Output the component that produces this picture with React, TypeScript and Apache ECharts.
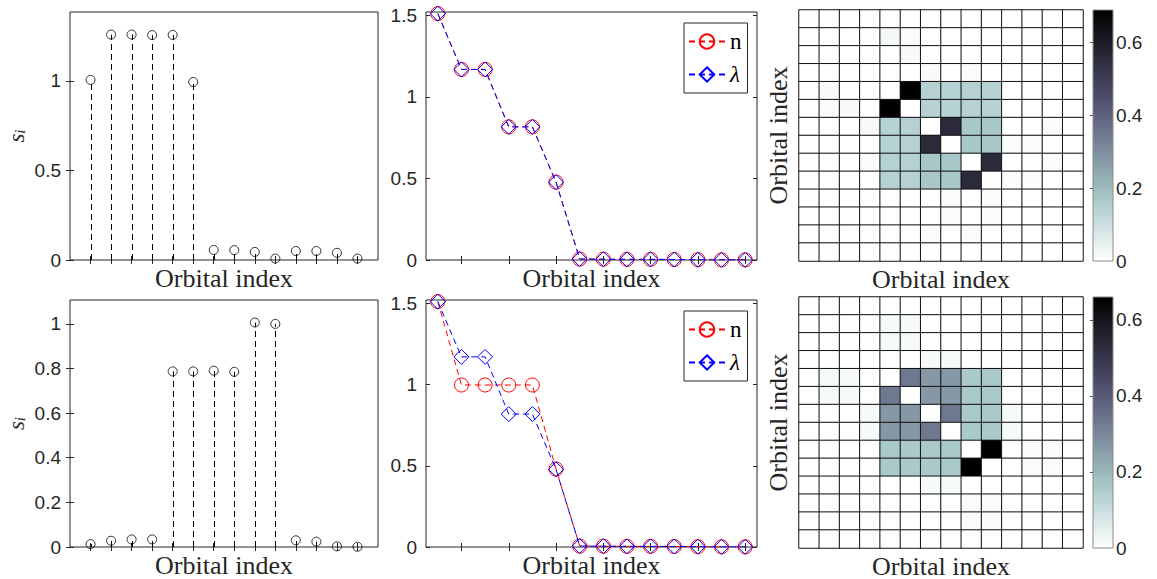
import React, { useEffect, useRef } from "react";
import * as echarts from "echarts";

// ---------------- data ----------------
const orbitalIndex = [1, 2, 3, 4, 5, 6, 7, 8, 9, 10, 11, 12, 13, 14];

const stemTop = [1.006, 1.259, 1.259, 1.256, 1.257, 0.994, 0.056, 0.055, 0.045, 0.008, 0.05, 0.05, 0.04, 0.008];
const stemBottom = [0.013, 0.028, 0.034, 0.034, 0.787, 0.787, 0.79, 0.785, 1.006, 1.0, 0.03, 0.024, 0.003, 0.001];

const occTopN = [1.51, 1.168, 1.168, 0.816, 0.816, 0.477, 0.006, 0.005, 0.004, 0.004, 0.003, 0.002, 0.001, 0.001];
const occTopLambda = [1.51, 1.168, 1.168, 0.816, 0.816, 0.477, 0.006, 0.005, 0.004, 0.004, 0.003, 0.002, 0.001, 0.001];
const occBottomN = [1.51, 0.997, 0.997, 0.997, 0.997, 0.48, 0.006, 0.005, 0.004, 0.004, 0.003, 0.002, 0.001, 0.001];
const occBottomLambda = [1.51, 1.17, 1.17, 0.818, 0.818, 0.478, 0.006, 0.005, 0.004, 0.004, 0.003, 0.002, 0.001, 0.001];

const miTop = [
  [0, 0, 0, 0, 0, 0, 0, 0, 0, 0, 0, 0, 0, 0],
  [0, 0, 0, 0, 0.02, 0.01, 0, 0, 0, 0, 0, 0, 0, 0],
  [0, 0, 0, 0, 0, 0.015, 0, 0, 0, 0, 0, 0, 0, 0],
  [0, 0, 0, 0, 0, 0, 0.015, 0, 0.01, 0, 0, 0, 0, 0],
  [0, 0.015, 0, 0, 0, 0.69, 0.145, 0.145, 0.145, 0.145, 0, 0, 0, 0],
  [0, 0.01, 0.015, 0, 0.69, 0, 0.145, 0.145, 0.145, 0.145, 0, 0, 0, 0],
  [0, 0, 0, 0.015, 0.145, 0.145, 0, 0.56, 0.17, 0.17, 0, 0, 0.01, 0],
  [0, 0, 0, 0, 0.145, 0.145, 0.56, 0, 0.17, 0.17, 0.01, 0.01, 0, 0],
  [0, 0, 0, 0.01, 0.145, 0.145, 0.17, 0.17, 0, 0.56, 0, 0, 0.01, 0],
  [0, 0, 0, 0, 0.145, 0.145, 0.17, 0.17, 0.56, 0, 0.01, 0.01, 0, 0],
  [0, 0, 0, 0, 0, 0, 0, 0.01, 0, 0.01, 0, 0, 0, 0],
  [0, 0, 0, 0, 0, 0, 0, 0.01, 0, 0.01, 0, 0, 0, 0],
  [0, 0, 0, 0, 0, 0, 0.01, 0, 0.01, 0, 0, 0, 0, 0],
  [0, 0, 0, 0, 0, 0, 0, 0, 0, 0, 0, 0, 0, 0],
];

const miBottom = [
  [0, 0, 0, 0, 0, 0, 0, 0, 0, 0, 0, 0, 0, 0],
  [0, 0, 0, 0, 0.015, 0.015, 0, 0, 0, 0, 0, 0, 0, 0],
  [0, 0, 0, 0, 0.015, 0.015, 0, 0, 0, 0, 0, 0, 0, 0],
  [0, 0, 0, 0, 0, 0, 0.015, 0.015, 0, 0, 0, 0, 0, 0],
  [0, 0.015, 0.015, 0, 0, 0.335, 0.265, 0.265, 0.16, 0.16, 0, 0, 0, 0],
  [0, 0.015, 0.015, 0, 0.335, 0, 0.265, 0.265, 0.16, 0.16, 0, 0, 0, 0],
  [0, 0, 0, 0.015, 0.265, 0.265, 0, 0.335, 0.16, 0.16, 0.015, 0, 0, 0],
  [0, 0, 0, 0.015, 0.265, 0.265, 0.335, 0, 0.16, 0.16, 0.015, 0, 0, 0],
  [0, 0, 0, 0, 0.16, 0.16, 0.16, 0.16, 0, 0.66, 0, 0.01, 0.01, 0],
  [0, 0, 0, 0, 0.16, 0.16, 0.16, 0.16, 0.66, 0, 0, 0.01, 0.01, 0],
  [0, 0, 0, 0, 0, 0, 0.015, 0.015, 0, 0, 0, 0, 0, 0],
  [0, 0, 0, 0, 0, 0, 0, 0, 0.01, 0.01, 0, 0, 0, 0],
  [0, 0, 0, 0, 0, 0, 0, 0, 0.01, 0.01, 0, 0, 0, 0],
  [0, 0, 0, 0, 0, 0, 0, 0, 0, 0, 0, 0, 0, 0],
];

const stemTicksTop = [0, 0.5, 1];
const stemTicksBottom = [0, 0.2, 0.4, 0.6, 0.8, 1];
const occTicks = [0, 0.5, 1, 1.5];
const occXTicks = [2, 4, 6, 8, 10, 12, 14];
const colorTicks = [0, 0.2, 0.4, 0.6];
const legendNames = ["n", "λ"];
const axisTitle = "Orbital index";

// ---------------- styling helpers ----------------
const AX = "#262626";
const SANS = "Liberation Sans";
const SERIF = "Liberation Serif";

// reversed MATLAB "bone" colormap, s in [0,1]
function boneRev(s: number): string {
  const t = 1 - Math.max(0, Math.min(1, s));
  const clamp = (v: number) => Math.max(0, Math.min(1, v));
  const hr = clamp(t / 0.375);
  const hg = clamp((t - 0.375) / 0.375);
  const hb = clamp((t - 0.75) / 0.25);
  const r = (7 * t + hb) / 8;
  const g = (7 * t + hg) / 8;
  const b = (7 * t + hr) / 8;
  const h = (v: number) => Math.round(v * 255).toString(16).padStart(2, "0");
  return "#" + h(r) + h(g) + h(b);
}
const N_COL = 48;
const cmap = Array.from({ length: N_COL + 1 }, (_, k) => boneRev(k / N_COL));

const tickStyle = (values: number[]) => ({
  show: true,
  inside: true,
  length: 4,
  customValues: values,
  lineStyle: { color: AX, width: 1 },
});

const labelStyle = (values: number[], margin = 9) => ({
  show: true,
  customValues: values,
  fontFamily: SANS,
  fontSize: 19,
  color: AX,
  margin,
});

const nameStyle = { fontFamily: SERIF, fontSize: 26, color: AX };

function buildOption() {
  const rows = [
    {
      top: 12, height: 248, hmTop: 10, hmHeight: 251, legendTop: 23,
      stem: stemTop, stemMax: 1.385, stemTicks: stemTicksTop,
      n: occTopN, lam: occTopLambda, mi: miTop,
    },
    {
      top: 300, height: 247, hmTop: 297, hmHeight: 251, legendTop: 311,
      stem: stemBottom, stemMax: 1.107, stemTicks: stemTicksBottom,
      n: occBottomN, lam: occBottomLambda, mi: miBottom,
    },
  ];

  const grid: any[] = [];
  const xAxis: any[] = [];
  const yAxis: any[] = [];
  const series: any[] = [];
  const visualMap: any[] = [];
  const legend: any[] = [];

  const gridBase = { outerBoundsMode: "none", containLabel: false };

  rows.forEach((row, r) => {
    const g0 = r * 4;
    const a0 = r * 6;
    const miMax = Math.max(...row.mi.map((rr) => Math.max(...rr)));

    grid.push({ ...gridBase, left: 70, top: row.top, width: 308, height: row.height, show: true, borderColor: AX, borderWidth: 1 });
    grid.push({ ...gridBase, left: 426, top: row.top, width: 331, height: row.height, show: true, borderColor: AX, borderWidth: 1 });
    grid.push({ ...gridBase, left: 799, top: row.hmTop, width: 284, height: row.hmHeight, show: false });
    grid.push({ ...gridBase, left: 1093, top: row.hmTop, width: 20, height: row.hmHeight, show: false });

    const noLine = { show: false };
    const noSplit = { show: false };

    xAxis.push({
      type: "value", gridIndex: g0, min: 0, max: 15, position: "bottom",
      axisLine: noLine, splitLine: noSplit, axisTick: tickStyle(orbitalIndex), axisLabel: { show: false },
      name: axisTitle, nameLocation: "middle", nameGap: 5, nameTextStyle: nameStyle,
    });
    xAxis.push({
      type: "value", gridIndex: g0, min: 0, max: 15, position: "top",
      axisLine: noLine, splitLine: noSplit, axisTick: tickStyle(orbitalIndex), axisLabel: { show: false },
    });
    xAxis.push({
      type: "value", gridIndex: g0 + 1, min: 0.5, max: 14.5, position: "bottom",
      axisLine: noLine, splitLine: noSplit, axisTick: tickStyle(occXTicks), axisLabel: { show: false },
      name: axisTitle, nameLocation: "middle", nameGap: 5, nameTextStyle: nameStyle,
    });
    xAxis.push({
      type: "value", gridIndex: g0 + 1, min: 0.5, max: 14.5, position: "top",
      axisLine: noLine, splitLine: noSplit, axisTick: tickStyle(occXTicks), axisLabel: { show: false },
    });
    xAxis.push({
      type: "category", gridIndex: g0 + 2, data: orbitalIndex.map(String), position: "bottom",
      axisLine: noLine, axisTick: { show: false }, axisLabel: { show: false }, splitLine: noSplit,
      name: axisTitle, nameLocation: "middle", nameGap: 5, nameTextStyle: nameStyle,
    });
    xAxis.push({
      type: "value", gridIndex: g0 + 3, min: 0, max: 1, show: false,
    });

    yAxis.push({
      type: "value", gridIndex: g0, min: 0, max: row.stemMax, position: "left",
      axisLine: noLine, splitLine: noSplit, axisTick: tickStyle(row.stemTicks), axisLabel: labelStyle(row.stemTicks),
      name: "{s|s}{i|i}", nameLocation: "middle", nameGap: 41, nameRotate: 90,
      nameTextStyle: {
        rich: {
          s: { fontFamily: SERIF, fontStyle: "italic", fontSize: 23, lineHeight: 20, color: AX, padding: [0, 0, 3, 0] },
          i: { fontFamily: SERIF, fontStyle: "italic", fontSize: 15, lineHeight: 12, color: AX, verticalAlign: "bottom" },
        },
      },
    });
    yAxis.push({
      type: "value", gridIndex: g0, min: 0, max: row.stemMax, position: "right",
      axisLine: noLine, splitLine: noSplit, axisTick: tickStyle(row.stemTicks), axisLabel: { show: false },
    });
    yAxis.push({
      type: "value", gridIndex: g0 + 1, min: 0, max: 1.52, position: "left",
      axisLine: noLine, splitLine: noSplit, axisTick: tickStyle(occTicks), axisLabel: labelStyle(occTicks),
    });
    yAxis.push({
      type: "value", gridIndex: g0 + 1, min: 0, max: 1.52, position: "right",
      axisLine: noLine, splitLine: noSplit, axisTick: tickStyle(occTicks), axisLabel: { show: false },
    });
    yAxis.push({
      type: "category", gridIndex: g0 + 2, data: orbitalIndex.map(String), inverse: true, position: "left",
      axisLine: noLine, axisTick: { show: false }, axisLabel: { show: false }, splitLine: noSplit,
      name: axisTitle, nameLocation: "middle", nameGap: 8, nameRotate: 90, nameTextStyle: nameStyle,
    });
    yAxis.push({
      type: "value", gridIndex: g0 + 3, min: 0, max: miMax, position: "right", z: 5,
      axisLine: noLine, splitLine: noSplit,
      axisTick: { show: true, inside: true, length: 3, customValues: colorTicks.filter((v) => v > 0), lineStyle: { color: "#555" } },
      axisLabel: labelStyle(colorTicks, 3),
    });

    const stemData = orbitalIndex.map((o, i) => [o, row.stem[i]]);
    series.push({
      type: "custom",
      xAxisIndex: a0, yAxisIndex: a0,
      data: stemData,
      renderItem: (_p: any, api: any) => {
        const x = api.value(0);
        const y = api.value(1);
        const p0 = api.coord([x, 0]);
        const p1 = api.coord([x, y]);
        const px = Math.round(p0[0]) + 0.5;
        return {
          type: "line",
          shape: { x1: px, y1: p0[1], x2: px, y2: p1[1] },
          style: { stroke: "#000", lineWidth: 1, lineDash: [6, 4] },
        };
      },
      z: 2,
    });
    series.push({
      type: "scatter",
      xAxisIndex: a0, yAxisIndex: a0,
      data: stemData,
      symbol: "circle",
      symbolSize: 9,
      itemStyle: { color: "rgba(0,0,0,0)", borderColor: "#000", borderWidth: 1 },
      z: 3,
    });

    series.push({
      type: "line", name: legendNames[0],
      xAxisIndex: a0 + 2, yAxisIndex: a0 + 2,
      data: orbitalIndex.map((o, i) => [o, row.n[i]]),
      symbol: "circle", symbolSize: 14, showAllSymbol: true,
      lineStyle: { color: "#ff0000", width: 1, type: [6, 4] },
      itemStyle: { color: "rgba(0,0,0,0)", borderColor: "#ff0000", borderWidth: 1 },
      z: 3,
    });
    series.push({
      type: "line", name: legendNames[1],
      xAxisIndex: a0 + 2, yAxisIndex: a0 + 2,
      data: orbitalIndex.map((o, i) => [o, row.lam[i]]),
      symbol: "diamond", symbolSize: 15, showAllSymbol: true,
      lineStyle: { color: "#0000ff", width: 1, type: [6, 4] },
      itemStyle: { color: "rgba(0,0,0,0)", borderColor: "#0000ff", borderWidth: 1 },
      z: 4,
    });

    const heatIdx = series.length;
    const hmData: number[][] = [];
    row.mi.forEach((rr, ri) => rr.forEach((v, ci) => hmData.push([ci, ri, v])));
    series.push({
      type: "heatmap",
      xAxisIndex: a0 + 4, yAxisIndex: a0 + 4,
      data: hmData,
      itemStyle: { borderColor: "#111", borderWidth: 1 },
      emphasis: { disabled: true },
    });

    const stops = cmap
      .map((c, k) => ({ offset: 1 - k / N_COL, color: c }))
      .sort((a, b) => a.offset - b.offset);
    series.push({
      type: "custom",
      xAxisIndex: a0 + 5, yAxisIndex: a0 + 5,
      data: [[0.5, 0]],
      renderItem: (params: any) => {
        const cs = params.coordSys;
        return {
          type: "rect",
          shape: { x: cs.x, y: cs.y, width: cs.width, height: cs.height },
          style: {
            fill: new echarts.graphic.LinearGradient(0, 0, 0, 1, stops),
            stroke: "#8a8a8a",
            lineWidth: 1,
          },
        };
      },
      z: 1,
    });

    visualMap.push({
      type: "continuous",
      show: false,
      min: 0,
      max: miMax,
      seriesIndex: heatIdx,
      inRange: { color: cmap },
    });

    legend.push({
      show: true,
      data: legendNames,
      orient: "vertical",
      left: 684,
      top: row.legendTop,
      itemWidth: 36,
      itemHeight: 18,
      itemGap: 10,
      padding: [7, 6, 7, 4],
      borderColor: AX,
      borderWidth: 1,
      backgroundColor: "#fff",
      selectedMode: false,
      formatter: (name: string) => (name === "λ" ? "{it|λ}" : "{rm|" + name + "}"),
      textStyle: {
        fontFamily: SERIF,
        fontSize: 22,
        color: "#000",
        lineHeight: 18,
        rich: {
          it: { fontFamily: SERIF, fontStyle: "italic", fontSize: 23, lineHeight: 18, color: "#000" },
          rm: { fontFamily: SERIF, fontStyle: "normal", fontSize: 23, lineHeight: 18, color: "#000" },
        },
      },
    });
  });

  return {
    animation: false,
    backgroundColor: "#fff",
    grid,
    xAxis,
    yAxis,
    series,
    visualMap,
    legend,
  };
}

export default function App() {
  const ref = useRef<HTMLDivElement>(null);
  useEffect(() => {
    if (!ref.current) return;
    const chart = echarts.init(ref.current, null, { renderer: "svg" });
    chart.setOption(buildOption() as any);
    return () => chart.dispose();
  }, []);
  return (
    <div
      ref={ref}
      style={{ position: "fixed", left: 0, top: 0, width: 1157, height: 579, background: "#fff" }}
    />
  );
}
